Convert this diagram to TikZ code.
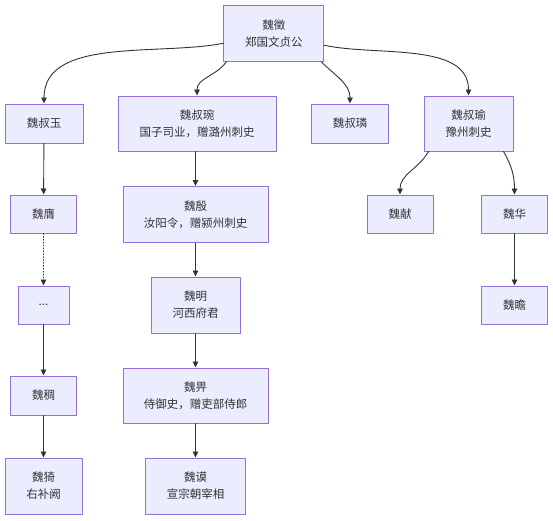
\documentclass[tikz,border=0pt]{standalone}
\usepackage{fontspec}
\setmainfont{Noto Sans CJK SC}
\usepackage{xcolor}
\usepackage{tikz}
\usetikzlibrary{arrows.meta}
\definecolor{boxfill}{HTML}{ECECFF}
\definecolor{boxline}{HTML}{9370DB}
\definecolor{inkgray}{HTML}{333333}
\tikzset{
  person/.style={rectangle, draw=boxline, fill=boxfill, line width=1pt, align=center,
    inner sep=0pt, text=inkgray, font=\fontsize{11.5}{17}\selectfont},
  link/.style={draw=inkgray, line width=0.9pt, -{Triangle[length=6pt,width=5.5pt]}},
  every picture/.style={line cap=round, line join=round}
}

\begin{document}
\begin{tikzpicture}[x=1pt, y=1pt]
    \useasboundingbox (0,0) rectangle (553,-520);

    % generation 1 and 2
    \node[person, minimum width=100pt, minimum height=56pt] (wz) at (273.8,-33.3) {魏徵\\郑国文贞公};
    \node[person, minimum width=78pt, minimum height=39pt] (shuyu) at (44,-123.5) {魏叔玉};
    \node[person, minimum width=158pt, minimum height=55pt] (shuwan) at (197,-123.5) {魏叔琬\\国子司业，赠潞州刺史};
    \node[person, minimum width=77pt, minimum height=39pt] (shulin) at (350,-123.5) {魏叔璘};
    \node[person, minimum width=89pt, minimum height=55pt] (shuyu2) at (468.5,-123.5) {魏叔瑜\\豫州刺史};

    % line of shuyu
    \node[person, minimum width=66pt, minimum height=38pt] (ying) at (43.5,-214) {魏膺};
    \node[person, minimum width=51pt, minimum height=38pt] (gap) at (43.5,-305) {...};
    \node[person, minimum width=66pt, minimum height=39pt] (chou) at (43.5,-395.5) {魏稠};
    \node[person, minimum width=77pt, minimum height=56pt] (yi) at (43.5,-486) {魏猗\\右补阙};

    % line of shuwan
    \node[person, minimum width=145pt, minimum height=56pt] (yin) at (195.5,-214.5) {魏殷\\汝阳令，赠颍州刺史};
    \node[person, minimum width=89pt, minimum height=56pt] (ming) at (195.5,-305) {魏明\\河西府君};
    \node[person, minimum width=145pt, minimum height=55pt] (bi) at (195.5,-395.5) {魏畀\\侍御史，赠吏部侍郎};
    \node[person, minimum width=100pt, minimum height=56pt] (mo) at (195.5,-486) {魏谟\\宣宗朝宰相};

    % line of shuyu2
    \node[person, minimum width=66pt, minimum height=38pt] (xian) at (400,-214) {魏献};
    \node[person, minimum width=66pt, minimum height=38pt] (hua) at (514.5,-214) {魏华};
    \node[person, minimum width=66pt, minimum height=38pt] (zhan) at (514.5,-305) {魏瞻};

    \draw[link] ([yshift=-10pt]wz.west) to[out=191, in=90, looseness=0.9] (shuyu.north);
    \draw[link] ([xshift=3pt]wz.south west) to[out=235, in=90] (shuwan.north);
    \draw[link] ([xshift=-3pt]wz.south east) to[out=-45, in=90] (shulin.north);
    \draw[link] ([yshift=-12pt]wz.east) to[out=-12, in=90, looseness=0.9] (shuyu2.north);

    \draw[link] (shuyu) -- (ying);
    \draw[link, dotted] (ying) -- (gap);
    \draw[link] (gap) -- (chou);
    \draw[link] (chou) -- (yi);

    \draw[link] (shuwan.south -| yin.north) -- (yin);
    \draw[link] (yin) -- (ming);
    \draw[link] (ming) -- (bi);
    \draw[link] (bi) -- (mo);

    \draw[link] ([xshift=5pt]shuyu2.south west) to[out=240, in=90] (xian.north);
    \draw[link] ([xshift=-10pt]shuyu2.south east) to[out=-60, in=90] (hua.north);
    \draw[link] (hua) -- (zhan);
\end{tikzpicture}
\end{document}
